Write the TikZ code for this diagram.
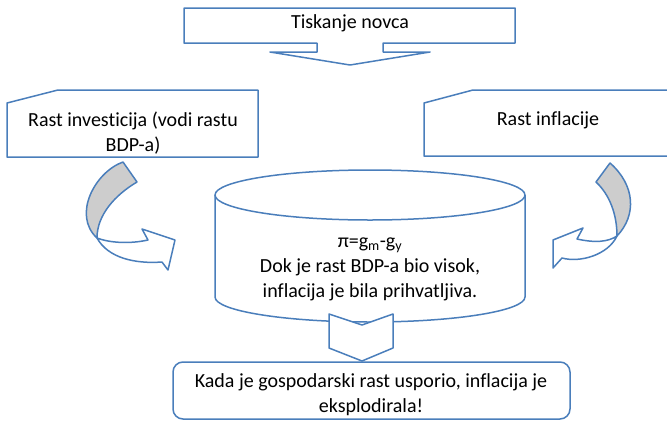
\documentclass[tikz,border=0pt]{standalone}
\usepackage{fontspec}
\setmainfont[Ligatures={NoCommon}]{Carlito}
\usetikzlibrary{positioning}
\definecolor{shapeblue}{RGB}{74,126,187}
\definecolor{bandgray}{RGB}{205,205,205}

\begin{document}
\begin{tikzpicture}[x=1pt, y=-1pt,
    outline/.style={draw=shapeblue, line width=1.5pt, fill=white, line join=round},
    band/.style={outline, fill=bandgray},
    txt/.style={font=\fontsize{20}{25}\selectfont, align=center, inner sep=0pt}]
\useasboundingbox (0,0) rectangle (667,421);

% Down arrow callout on top
\draw[outline] (184,8) -- (515,8) -- (515,43) -- (383,43) -- (383,52) -- (430,52)
    -- (350,65) -- (270,52) -- (317,52) -- (317,43) -- (184,43) -- cycle;
\node[txt] (tisk) at (350,23) {Tiskanje novca};

% Snipped boxes left and right
\draw[outline] (7,103) -- (58,90) -- (258,90) -- (258,157) -- (7,157) -- cycle;
\node[txt] (invest) at (133,133) {Rast investicija (vodi rastu\\BDP-a)};
\draw[outline] (424,103) -- (473,90) -- (670,90) -- (670,156) -- (424,156) -- cycle;
\node[txt] (infl) at (548,120) {Rast inflacije};

% Cylinder
\draw[outline] (215,195) -- (215,297) arc[start angle=180, end angle=0, x radius=155, y radius=25]
    -- (525,195);
\draw[outline] (370,195) ellipse[x radius=155, y radius=25];
\node[txt] (formula) at (370,269) {π=g\textsubscript{m}-g\textsubscript{y}\\
    Dok je rast BDP-a bio visok,\\inflacija je bila prihvatljiva.};

% Curved arrow, left
\draw[band] (123,162) .. controls (95,172) and (72,215) .. (97,238)
    .. controls (97,215) and (115,195) .. (137,182) -- cycle;
\draw[outline] (97,238) .. controls (108,258) and (135,264) .. (162,262) -- (168,270)
    -- (175,240) -- (142,229) -- (148,240) .. controls (130,244) and (110,243) .. (97,238) -- cycle;

% Curved arrow, right
\draw[band] (610,163) .. controls (635,185) and (637,215) .. (617,236)
    .. controls (617,215) and (610,195) .. (596,182) -- cycle;
\draw[outline] (617,236) .. controls (608,255) and (580,263) .. (562,258) -- (553,268)
    -- (553,240) -- (583,228) -- (577,239) .. controls (595,243) and (608,242) .. (617,236) -- cycle;

% Chevron down to result
\draw[outline] (329,314) -- (362,325) -- (393,314) -- (393,348) -- (362,361) -- (329,348) -- cycle;

% Result box
\draw[outline, rounded corners=10] (173,362) rectangle (570,419);
\node[txt] (result) at (371,395) {Kada je gospodarski rast usporio, inflacija je\\eksplodirala!};

\end{tikzpicture}
\end{document}
